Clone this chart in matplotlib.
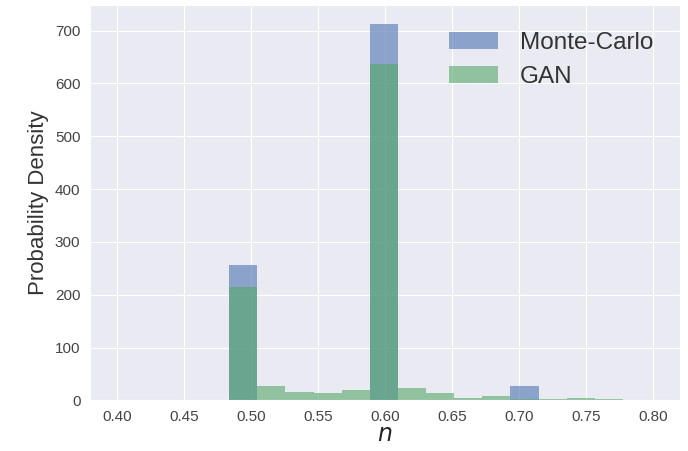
import matplotlib
matplotlib.use("Agg")
import matplotlib.pyplot as plt
import seaborn as sns
import numpy as np

# histogram bin edges shared by both samples
bin_edges = [0.4837, 0.5047, 0.5257, 0.5467, 0.5677, 0.5887, 0.6097, 0.6307,
             0.6517, 0.6727, 0.6937, 0.7147, 0.7357, 0.7567, 0.7777]

# probability density per bin
mc_density = [256, 0, 0, 0, 0, 713, 0, 0, 0, 0, 28, 0, 0, 0]
gan_density = [215, 28, 17, 14, 19, 636, 23, 14, 4, 8, 2, 3, 5, 2.5]

labels = ["Monte-Carlo", "GAN"]
colors = ["#4C72B0", "#55A868"]
x_ticks = [0.40, 0.45, 0.50, 0.55, 0.60, 0.65, 0.70, 0.75, 0.80]

sns.set_style("darkgrid")
plt.rcParams["font.family"] = ["Liberation Sans", "DejaVu Sans"]

fig = plt.figure(figsize=(6.88, 4.51), dpi=100)
ax = fig.add_axes([0.131, 0.112, 0.857, 0.877])

centers = (np.array(bin_edges[:-1]) + np.array(bin_edges[1:])) / 2
ax.hist(centers, bins=bin_edges, weights=mc_density, color=colors[0],
        alpha=0.6, linewidth=0, label=labels[0])
ax.hist(centers, bins=bin_edges, weights=gan_density, color=colors[1],
        alpha=0.6, linewidth=0, label=labels[1])

ax.set_xlim(0.38, 0.82)
ax.set_xticks(x_ticks)
ax.set_xticklabels(["%.2f" % t for t in x_ticks])
ax.set_yticks([0, 100, 200, 300, 400, 500, 600, 700])
ax.tick_params(labelsize=11, colors="#444444")

ax.set_xlabel("$n$", fontsize=17, labelpad=0)
ax.set_ylabel("Probability Density", fontsize=16, color="#333333")

ax.legend(loc="upper right", fontsize=17.5, frameon=False, handlelength=2.0,
          handletextpad=0.9, labelspacing=0.5, borderaxespad=0.7,
          labelcolor="#333333")

plt.savefig("out.png", dpi=100)
